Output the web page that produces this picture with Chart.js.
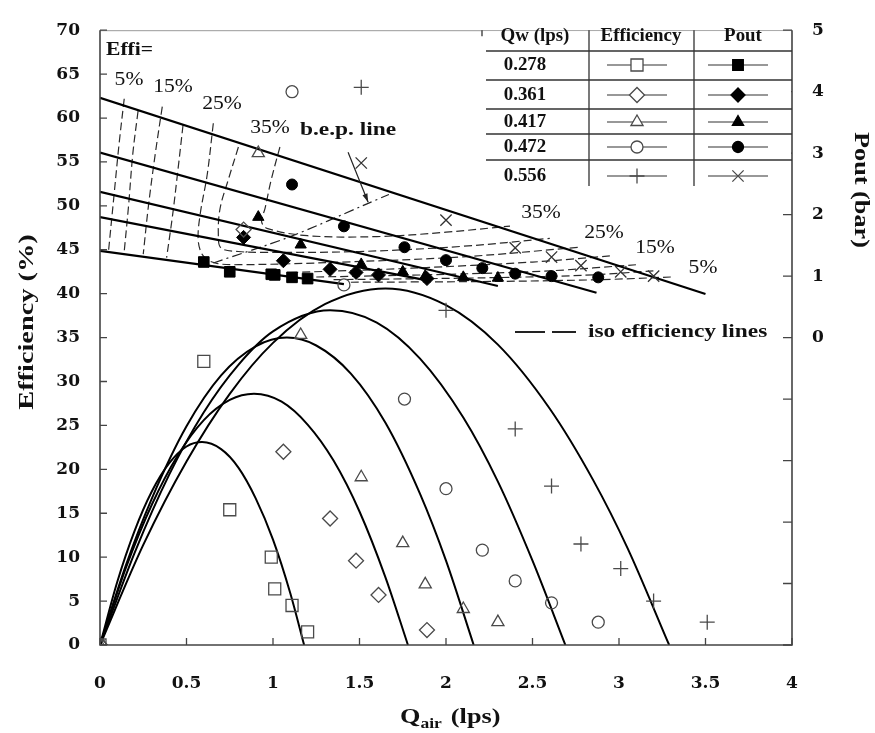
<!DOCTYPE html>
<html>
<head>
<meta charset="utf-8">
<script src="https://cdn.jsdelivr.net/npm/chart.js@4.4.0/dist/chart.umd.min.js"></script>
<style>
  html, body { margin: 0; padding: 0; background: #fff; }
  #contenedor { width: 875px; height: 733px; }
</style>
</head>
<body>
<div id="contenedor"><canvas id="grafico" width="875" height="733"></canvas></div>
<script>
// caudales de agua (lps) de cada serie
var qw = ['0.278', '0.361', '0.417', '0.472', '0.556'];

// eficiencia medida (%) - marcadores abiertos
var qairEf278 = [0, 0.6, 0.75, 0.99, 1.01, 1.11, 1.2];
var ef278 = [0, 32.3, 15.4, 10.0, 6.4, 4.5, 1.5];
var qairEf361 = [0, 0.83, 1.06, 1.33, 1.48, 1.61, 1.89];
var ef361 = [0, 47.3, 22.0, 14.4, 9.6, 5.7, 1.7];
var qairEf417 = [0, 0.915, 1.16, 1.51, 1.75, 1.88, 2.10, 2.30];
var ef417 = [0, 56.0, 35.3, 19.1, 11.6, 6.9, 4.1, 2.6];
var qairEf472 = [0, 1.11, 1.41, 1.76, 2.0, 2.21, 2.40, 2.61, 2.88];
var ef472 = [0, 63.0, 41.0, 28.0, 17.8, 10.8, 7.3, 4.8, 2.6];
var qairEf556 = [0, 1.51, 2.0, 2.40, 2.61, 2.78, 3.01, 3.20, 3.51];
var ef556 = [0, 63.5, 38.1, 24.6, 18.1, 11.5, 8.7, 5.0, 2.6];

// presion de salida medida (bar) - marcadores llenos
var qairPo278 = [0.6, 0.75, 0.99, 1.01, 1.11, 1.2];
var po278 = [1.23, 1.07, 1.03, 1.02, 0.98, 0.96];
var qairPo361 = [0.83, 1.06, 1.33, 1.48, 1.61, 1.89];
var po361 = [1.63, 1.25, 1.11, 1.06, 1.02, 0.96];
var qairPo417 = [0.915, 1.16, 1.51, 1.75, 1.88, 2.10, 2.30];
var po417 = [1.96, 1.51, 1.19, 1.07, 1.00, 0.98, 0.97];
var qairPo472 = [1.11, 1.41, 1.76, 2.0, 2.21, 2.40, 2.61, 2.88];
var po472 = [2.49, 1.81, 1.47, 1.26, 1.13, 1.04, 1.00, 0.98];
var qairPo556 = [1.51, 2.0, 2.40, 2.61, 2.78, 3.01, 3.20];
var po556 = [2.84, 1.91, 1.46, 1.31, 1.17, 1.07, 1.00];

// curvas de ajuste de la eficiencia
var qairAj278 = [0, 0.1, 0.2, 0.3, 0.4, 0.5, 0.59, 0.7, 0.8, 0.9, 1.0, 1.1, 1.18];
var aj278 = [0, 7.2, 13.0, 17.5, 20.7, 22.6, 23.1, 22.3, 20.2, 16.7, 12.0, 5.9, 0];
var qairAj361 = [0, 0.15, 0.3, 0.45, 0.6, 0.75, 0.89, 1.05, 1.2, 1.35, 1.5, 1.65, 1.78];
var aj361 = [0, 8.8, 16.0, 21.6, 25.6, 27.9, 28.6, 27.7, 25.1, 21.0, 15.2, 7.7, 0];
var qairAj417 = [0, 0.15, 0.3, 0.5, 0.7, 0.9, 1.08, 1.25, 1.45, 1.65, 1.85, 2.0, 2.16];
var aj417 = [0, 9.1, 16.7, 24.9, 30.7, 34.0, 35.0, 34.1, 30.9, 25.3, 17.2, 9.6, 0];
var qairAj472 = [0, 0.2, 0.4, 0.6, 0.8, 1.0, 1.33, 1.6, 1.85, 2.1, 2.3, 2.5, 2.69];
var aj472 = [0, 10.5, 19.4, 26.5, 31.9, 35.7, 38.1, 36.7, 32.6, 25.9, 18.6, 9.6, 0];
var qairAj556 = [0, 0.25, 0.5, 0.75, 1.0, 1.3, 1.65, 2.0, 2.3, 2.6, 2.85, 3.05, 3.29];
var aj556 = [0, 11.4, 20.9, 28.6, 34.4, 38.8, 40.6, 38.7, 34.2, 26.9, 18.8, 11.0, 0];

// rectas de Pout (bar), extremos
var qairRecta = [[0, 1.41], [0, 1.89], [0, 2.3], [0, 2.87], [0, 3.5]];
var poRecta = [[1.41, 0.87], [1.96, 0.93], [2.37, 0.84], [3.01, 0.73], [3.90, 0.71]];

// lineas de iso eficiencia (en unidades del eje izquierdo)
var nivelesIso = ['5%', '10%', '15%', '20%', '25%', '30%', '35%'];
var isoIzqQ = [
  [0.14, 0.11, 0.08, 0.05],
  [0.22, 0.19, 0.165, 0.14],
  [0.36, 0.32, 0.28, 0.25],
  [0.48, 0.45, 0.42, 0.385],
  [0.655, 0.62, 0.578, 0.568, 0.597, 0.665, 0.8, 1.4, 2.1, 2.78],
  [0.8, 0.742, 0.694, 0.684, 0.7, 0.8, 0.95, 1.5, 2.1, 2.6],
  [1.04, 0.99, 0.954, 0.934, 0.97, 1.2, 1.6, 2.0, 2.37]
];
var isoIzqE = [
  [62.2, 57, 51, 45.0],
  [60.8, 56, 50, 44.8],
  [61.3, 56, 50, 44.5],
  [59.2, 54, 49, 44.1],
  [59.4, 53.6, 48.9, 46.0, 44.3, 43.5, 43.3, 43.6, 44.2, 45.3],
  [56.7, 53.0, 49.7, 46.7, 45.2, 44.8, 44.7, 44.8, 45.4, 46.3],
  [56.7, 53.0, 49.7, 48.2, 47.4, 46.6, 46.5, 47.0, 47.7]
];
var isoDerQ = [[1.45, 2.3, 2.9, 3.3], [1.35, 2.2, 2.8, 3.2], [1.25, 2.0, 2.6, 3.1], [1.1, 1.8, 2.5, 2.95]];
var isoDerE = [[41.3, 41.4, 41.6, 41.9], [41.6, 41.8, 42.1, 42.6], [41.9, 42.2, 42.6, 43.3], [42.4, 42.9, 43.6, 44.3]];

// linea b.e.p.
var qairBep = [0.655, 1.1, 1.54, 1.67];
var efBep = [43.5, 46.5, 50.2, 51.3];

// Convierte dos listas en puntos {x, y}
function serie(qx, vals) {
    return qx.map(function (q, i) {
        return { x: q, y: vals[i] };
    });
}

var efQ = [qairEf278, qairEf361, qairEf417, qairEf472, qairEf556];
var efV = [ef278, ef361, ef417, ef472, ef556];
var poQ = [qairPo278, qairPo361, qairPo417, qairPo472, qairPo556];
var poV = [po278, po361, po417, po472, po556];
var ajQ = [qairAj278, qairAj361, qairAj417, qairAj472, qairAj556];
var ajV = [aj278, aj361, aj417, aj472, aj556];

// estilos de marcadores
var marcaEf = [
    { pointStyle: 'rect', radius: 8.5 },
    { pointStyle: 'rectRot', radius: 7.5 },
    { pointStyle: 'triangle', radius: 7 },
    { pointStyle: 'circle', radius: 6 },
    { pointStyle: 'cross', radius: 7.5 }
];
var marcaPo = [
    { pointStyle: 'rect', radius: 7.5 },
    { pointStyle: 'rectRot', radius: 7 },
    { pointStyle: 'triangle', radius: 6.5 },
    { pointStyle: 'circle', radius: 5.5 },
    { pointStyle: 'crossRot', radius: 8 }
];

var datasets = [];

// marcadores de eficiencia y de Pout
for (var i = 0; i < qw.length; i++) {
    datasets.push({
        label: 'Eff ' + qw[i],
        data: serie(efQ[i], efV[i]),
        yAxisID: 'y',
        showLine: false,
        pointStyle: marcaEf[i].pointStyle,
        pointRadius: marcaEf[i].radius,
        pointBackgroundColor: 'rgba(255,255,255,0)',
        pointBorderColor: '#4a4a4a',
        pointBorderWidth: 1.3,
        order: 0
    });
    datasets.push({
        label: 'Pout ' + qw[i],
        data: serie(poQ[i], poV[i]),
        yAxisID: 'y2',
        showLine: false,
        pointStyle: marcaPo[i].pointStyle,
        pointRadius: marcaPo[i].radius,
        pointBackgroundColor: '#000',
        pointBorderColor: i === 4 ? '#333' : '#000',
        pointBorderWidth: i === 4 ? 1.3 : 1,
        order: 0
    });
}

// curvas de ajuste y rectas
for (var j = 0; j < qw.length; j++) {
    datasets.push({
        label: 'Ajuste ' + qw[j],
        data: serie(ajQ[j], ajV[j]),
        yAxisID: 'y',
        showLine: true,
        borderColor: '#000',
        borderWidth: 2,
        pointRadius: 0,
        cubicInterpolationMode: 'monotone',
        order: 1
    });
    datasets.push({
        label: 'Recta ' + qw[j],
        data: serie(qairRecta[j], poRecta[j]),
        yAxisID: 'y2',
        showLine: true,
        borderColor: '#000',
        borderWidth: 2.2,
        pointRadius: 0,
        order: 1
    });
}

// lineas de iso eficiencia
for (var k = 0; k < nivelesIso.length; k++) {
    datasets.push({
        label: 'Iso ' + nivelesIso[k],
        data: serie(isoIzqQ[k], isoIzqE[k]),
        yAxisID: 'y',
        showLine: true,
        borderColor: '#2a2a2a',
        borderWidth: 1.2,
        borderDash: [8, 4],
        tension: 0.35,
        pointRadius: 0,
        order: 2
    });
    if (k < isoDerQ.length) {
        datasets.push({
            label: 'Iso der ' + nivelesIso[k],
            data: serie(isoDerQ[k], isoDerE[k]),
            yAxisID: 'y',
            showLine: true,
            borderColor: '#2a2a2a',
            borderWidth: 1.2,
            borderDash: [8, 4],
            tension: 0.3,
            pointRadius: 0,
            order: 2
        });
    }
}

// linea b.e.p. (raya-punto)
datasets.push({
    label: 'b.e.p.',
    data: serie(qairBep, efBep),
    yAxisID: 'y',
    showLine: true,
    borderColor: '#222',
    borderWidth: 1.2,
    borderDash: [10, 4, 2, 4],
    tension: 0.3,
    pointRadius: 0,
    order: 2
});

var fuenteTicks = { family: 'DejaVu Serif', weight: 'bold', size: 17 };

// Escribe un texto con estiramiento horizontal
function texto(ctx, s, x, y, tam, negrita, alinear, estirar, giro) {
    ctx.save();
    ctx.translate(x, y);
    if (giro) ctx.rotate(giro);
    ctx.scale(estirar || 1, 1);
    ctx.font = (negrita ? 'bold ' : '') + tam + 'px "Liberation Serif", "Times New Roman", serif';
    ctx.textAlign = alinear || 'left';
    ctx.textBaseline = 'middle';
    ctx.fillStyle = '#111';
    ctx.fillText(s, 0, 0);
    ctx.restore();
}

// Dibuja un marcador para la tabla de leyenda
function marcador(ctx, estilo, radio, x, y, lleno) {
    ctx.save();
    ctx.fillStyle = lleno ? '#000' : '#fff';
    ctx.strokeStyle = lleno ? '#000' : '#4a4a4a';
    ctx.lineWidth = 1.3;
    Chart.helpers.drawPoint(ctx, { pointStyle: estilo, radius: radio, borderWidth: 1.3, rotation: 0 }, x, y);
    ctx.restore();
}

// plugin: marco, marcas hacia dentro, tabla y textos
var decoracion = {
    id: 'decoracion',
    afterDatasetsDraw: function (chart) {
        var ctx = chart.ctx;
        var a = chart.chartArea;
        var sx = chart.scales.x, sy = chart.scales.y, sy2 = chart.scales.y2;

        // marco
        ctx.save();
        ctx.strokeStyle = '#999';
        ctx.lineWidth = 1;
        ctx.beginPath();
        ctx.moveTo(a.left, a.top + 0.5);
        ctx.lineTo(a.right, a.top + 0.5);
        ctx.stroke();
        ctx.strokeStyle = '#444';
        ctx.lineWidth = 1.6;
        ctx.beginPath();
        ctx.moveTo(a.left, a.top);
        ctx.lineTo(a.left, a.bottom);
        ctx.lineTo(a.right, a.bottom);
        ctx.lineTo(a.right, a.top);
        ctx.stroke();

        // marcas hacia dentro
        ctx.lineWidth = 1.3;
        ctx.beginPath();
        sx.ticks.forEach(function (t) {
            var px = sx.getPixelForValue(t.value);
            ctx.moveTo(px, a.bottom);
            ctx.lineTo(px, a.bottom - 7);
        });
        sy.ticks.forEach(function (t) {
            var py = sy.getPixelForValue(t.value);
            ctx.moveTo(a.left, py);
            ctx.lineTo(a.left + 7, py);
        });
        sy2.ticks.forEach(function (t) {
            var py = sy2.getPixelForValue(t.value);
            ctx.moveTo(a.right, py);
            ctx.lineTo(a.right - 9, py);
        });
        ctx.stroke();
        ctx.restore();

        // tabla de leyenda
        var c0 = 482, c1 = 589, c2 = 694, c3 = a.right;
        var filas = [a.top, 51, 80, 109, 134, 160, 186];
        ctx.save();
        ctx.fillStyle = '#fff';
        ctx.fillRect(c0, a.top + 1, c3 - c0 - 1, filas[6] - a.top);
        ctx.strokeStyle = '#333';
        ctx.lineWidth = 1.3;
        ctx.beginPath();
        for (var r = 1; r < 6; r++) {
            ctx.moveTo(486, filas[r]);
            ctx.lineTo(c3, filas[r]);
        }
        ctx.moveTo(c1, a.top); ctx.lineTo(c1, filas[6]);
        ctx.moveTo(c2, a.top); ctx.lineTo(c2, filas[6]);
        ctx.moveTo(c0, a.top); ctx.lineTo(c0, a.top + 6);
        ctx.stroke();
        texto(ctx, 'Qw (lps)', 535, 36, 18, true, 'center', 1.05);
        texto(ctx, 'Efficiency', 641, 36, 18, true, 'center', 1.05);
        texto(ctx, 'Pout', 743, 36, 18, true, 'center', 1.05);
        var cy = [65, 95, 122, 147, 176];
        for (var f = 0; f < qw.length; f++) {
            texto(ctx, qw[f], 525, cy[f], 18, true, 'center', 1.05);
            ctx.strokeStyle = '#333';
            ctx.lineWidth = 1.2;
            ctx.beginPath();
            ctx.moveTo(607, cy[f]); ctx.lineTo(667, cy[f]);
            ctx.moveTo(708, cy[f]); ctx.lineTo(768, cy[f]);
            ctx.stroke();
            marcador(ctx, marcaEf[f].pointStyle, marcaEf[f].radius, 637, cy[f], false);
            marcador(ctx, marcaPo[f].pointStyle, marcaPo[f].radius, 738, cy[f], f !== 4);
        }
        ctx.restore();
    },
    afterDraw: function (chart) {
        var ctx = chart.ctx;
        var sx = chart.scales.x, sy = chart.scales.y;

        // flecha hacia la linea b.e.p.
        var x1 = sx.getPixelForValue(1.434), y1 = sy.getPixelForValue(56.1);
        var x2 = sx.getPixelForValue(1.55), y2 = sy.getPixelForValue(50.4);
        ctx.save();
        ctx.strokeStyle = '#222';
        ctx.fillStyle = '#222';
        ctx.lineWidth = 1.2;
        ctx.beginPath();
        ctx.moveTo(x1, y1);
        ctx.lineTo(x2, y2);
        ctx.stroke();
        var ang = Math.atan2(y2 - y1, x2 - x1);
        ctx.beginPath();
        ctx.moveTo(x2, y2);
        ctx.lineTo(x2 - 9 * Math.cos(ang - 0.3), y2 - 9 * Math.sin(ang - 0.3));
        ctx.lineTo(x2 - 9 * Math.cos(ang + 0.3), y2 - 9 * Math.sin(ang + 0.3));
        ctx.closePath();
        ctx.fill();

        // leyenda de lineas iso
        ctx.lineWidth = 2;
        ctx.beginPath();
        ctx.moveTo(515, 332); ctx.lineTo(545, 332);
        ctx.moveTo(552, 332); ctx.lineTo(576, 332);
        ctx.stroke();
        ctx.restore();

        texto(ctx, 'iso efficiency lines', 588, 332, 18, true, 'left', 1.3);
        texto(ctx, 'Effi=', 106, 50, 18, true, 'left', 1.2);
        texto(ctx, 'b.e.p. line', 300, 130, 18, true, 'left', 1.3);

        // etiquetas de las lineas iso
        texto(ctx, '5%', 129, 80, 18, false, 'center', 1.2);
        texto(ctx, '15%', 173, 87, 18, false, 'center', 1.2);
        texto(ctx, '25%', 222, 104, 18, false, 'center', 1.2);
        texto(ctx, '35%', 270, 128, 18, false, 'center', 1.2);
        texto(ctx, '35%', 541, 213, 18, false, 'center', 1.2);
        texto(ctx, '25%', 604, 233, 18, false, 'center', 1.2);
        texto(ctx, '15%', 655, 248, 18, false, 'center', 1.2);
        texto(ctx, '5%', 703, 268, 18, false, 'center', 1.2);

        // titulos de los ejes
        texto(ctx, 'Efficiency (%)', 28, 322, 21, true, 'center', 1.35, -Math.PI / 2);
        texto(ctx, 'Pout (bar)', 860, 190, 21, true, 'center', 1.25, Math.PI / 2);
        ctx.save();
        ctx.translate(400, 718);
        ctx.scale(1.25, 1);
        ctx.fillStyle = '#111';
        ctx.textBaseline = 'middle';
        ctx.font = 'bold 21px "Liberation Serif", serif';
        ctx.fillText('Q', 0, 0);
        var w = ctx.measureText('Q').width;
        ctx.font = 'bold 14px "Liberation Serif", serif';
        ctx.fillText('air', w, 6);
        w += ctx.measureText('air').width + 2;
        ctx.font = 'bold 21px "Liberation Serif", serif';
        ctx.fillText(' (lps)', w, 0);
        ctx.restore();
    }
};

var grafico = document.getElementById('grafico').getContext('2d');
var chartInstance = new Chart(grafico, {
    type: 'scatter',
    data: { datasets: datasets },
    options: {
        responsive: false,
        animation: false,
        layout: { padding: { top: 18, left: 0, right: 0, bottom: 0 } },
        plugins: {
            legend: { display: false },
            tooltip: { enabled: false }
        },
        scales: {
            x: {
                type: 'linear',
                min: 0,
                max: 4,
                ticks: {
                    stepSize: 0.5,
                    padding: 28,
                    color: '#111',
                    font: fuenteTicks,
                    callback: function (v) { return String(Math.round(v * 10) / 10); }
                },
                grid: { display: false, drawTicks: false },
                border: { display: false },
                afterFit: function (s) { s.height = 88; }
            },
            y: {
                position: 'left',
                min: 0,
                max: 70,
                ticks: { stepSize: 5, padding: 20, color: '#111', font: fuenteTicks },
                grid: { display: false, drawTicks: false },
                border: { display: false },
                afterFit: function (s) { s.width = 100; }
            },
            y2: {
                position: 'right',
                min: -5,
                max: 5,
                ticks: {
                    stepSize: 1,
                    padding: 20,
                    color: '#111',
                    font: fuenteTicks,
                    callback: function (v) { return v >= 0 ? String(v) : ''; }
                },
                grid: { display: false, drawTicks: false },
                border: { display: false },
                afterFit: function (s) { s.width = 83; }
            }
        }
    },
    plugins: [decoracion]
});
</script>
</body>
</html>
